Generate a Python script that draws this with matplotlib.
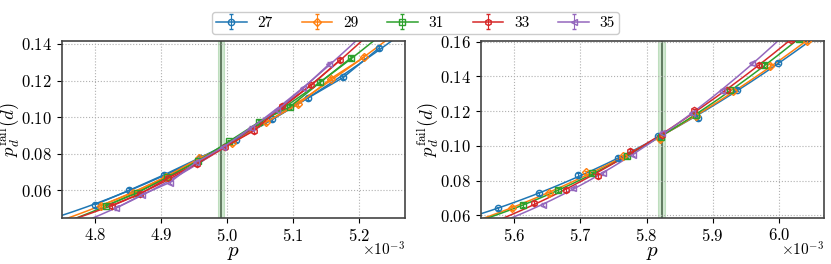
import matplotlib

matplotlib.use("Agg")
import matplotlib.pyplot as plt
import numpy as np

plt.rcParams["font.family"] = "serif"
plt.rcParams["font.serif"] = ["cmr10", "DejaVu Serif"]
plt.rcParams["mathtext.fontset"] = "cm"
plt.rcParams["axes.formatter.use_mathtext"] = True
plt.rcParams["axes.unicode_minus"] = False

# distances d and their markers
DISTANCES = [27, 29, 31, 33, 35]
MARKERS = {27: "o", 29: "D", 31: "s", 33: "h", 35: "<"}
MARKER_SIZE = {27: 4.5, 29: 3.8, 31: 4.2, 33: 4.5, 35: 4.5}
COLORS = {27: "tab:blue", 29: "tab:orange", 31: "tab:green", 33: "tab:red", 35: "tab:purple"}

# left panel: physical error rate p (units of 1e-3) and failure rate
left_p = {
    27: [4.800, 4.852, 4.905, 4.959, 5.014, 5.068, 5.122, 5.176, 5.230],
    29: [4.8085, 4.858, 4.908, 4.958, 5.0077, 5.0586, 5.108, 5.1574, 5.2073],
    31: [4.8165, 4.863, 4.909, 4.956, 5.003, 5.048, 5.095, 5.1414, 5.1877],
    33: [4.825, 4.8685, 4.9108, 4.9538, 4.997, 5.0405, 5.0839, 5.127, 5.1706],
    35: [4.8317, 4.8715, 4.913, 4.953, 4.994, 5.036, 5.0757, 5.115, 5.155],
}
left_pfail = {
    27: [0.0521, 0.0600, 0.0685, 0.0778, 0.0876, 0.0987, 0.1103, 0.1217, 0.1377],
    29: [0.0516, 0.0587, 0.0675, 0.0775, 0.0857, 0.0971, 0.1071, 0.1211, 0.1327],
    31: [0.0516, 0.0584, 0.0670, 0.0760, 0.0867, 0.0972, 0.1056, 0.1191, 0.1324],
    33: [0.0514, 0.0580, 0.0668, 0.0744, 0.0838, 0.0925, 0.1062, 0.1173, 0.1311],
    35: [0.0502, 0.0576, 0.0642, 0.0753, 0.0835, 0.0942, 0.1037, 0.1157, 0.1291],
}

# right panel
right_p = {
    27: [5.5764, 5.6374, 5.6968, 5.7564, 5.818, 5.878, 5.937, 5.998, 6.058],
    29: [5.597, 5.6527, 5.7084, 5.764, 5.820, 5.875, 5.931, 5.987, 6.042],
    31: [5.6137, 5.666, 5.718, 5.770, 5.822, 5.874, 5.926, 5.978, 6.030],
    33: [5.630, 5.678, 5.727, 5.775, 5.824, 5.872, 5.921, 5.970, 6.018],
    35: [5.644, 5.689, 5.734, 5.779, 5.824, 5.869, 5.914, 5.959, 6.004],
}
right_pfail = {
    27: [0.0639, 0.0726, 0.0832, 0.0929, 0.1055, 0.1158, 0.1324, 0.1479, 0.1634],
    29: [0.0642, 0.0726, 0.0847, 0.0939, 0.1040, 0.1170, 0.1316, 0.1460, 0.1605],
    31: [0.0658, 0.0745, 0.0841, 0.0940, 0.1050, 0.1180, 0.1320, 0.1467, 0.1614],
    33: [0.0671, 0.0745, 0.0826, 0.0973, 0.1065, 0.1205, 0.1320, 0.1466, 0.1612],
    35: [0.0662, 0.0755, 0.0842, 0.0949, 0.1074, 0.1187, 0.1316, 0.1475, 0.1625],
}
PFAIL_ERR = 0.0010

# threshold estimates (p_c and its uncertainty band), units of 1e-3
left_threshold = (4.9915, 4.987, 4.996)
right_threshold = (5.823, 5.818, 5.828)

fig = plt.figure(figsize=(8.31, 2.64), dpi=100)
ax_l = fig.add_axes([0.0746, 0.1754, 0.4131, 0.6705])
ax_r = fig.add_axes([0.5788, 0.1754, 0.4128, 0.6705])


def draw_panel(ax, ps, vals, thr, xlim, ylim):
    xs = np.linspace(xlim[0] - 0.05, xlim[1] + 0.05, 200)
    handles = []
    for d in DISTANCES:
        p = np.array(ps[d])
        v = np.array(vals[d])
        coef = np.polyfit(p, v, 2)
        ax.plot(xs * 1e-3, np.polyval(coef, xs), color=COLORS[d], lw=1.1, zorder=2)
        h = ax.errorbar(p * 1e-3, v, yerr=PFAIL_ERR, fmt=MARKERS[d], color=COLORS[d],
                        mfc="none", ms=MARKER_SIZE[d], mew=1.0, capsize=1.5,
                        elinewidth=0.8, ls="-", lw=1.1, label=str(d), zorder=3)
        h.lines[0].set_linestyle("none")
        handles.append(h)
    ax.axvspan(thr[1] * 1e-3, thr[2] * 1e-3, color="green", alpha=0.18, lw=0.8, zorder=1)
    ax.axvline(thr[0] * 1e-3, color="#4a654a", lw=1.3, alpha=0.9, zorder=1)
    ax.set_xlim(xlim[0] * 1e-3, xlim[1] * 1e-3)
    ax.set_ylim(*ylim)
    ax.ticklabel_format(axis="x", style="sci", scilimits=(-3, -3), useMathText=True)
    ax.xaxis.get_offset_text().set_visible(False)
    ax.text(1.0, -0.18, r"$\times10^{-3}$", transform=ax.transAxes, ha="right",
            va="center", fontsize=11)
    ax.grid(True, linestyle=":", color="#b0b0b0", lw=0.8)
    ax.tick_params(labelsize=12)
    for s in ax.spines.values():
        s.set_color("#444444")
        s.set_linewidth(1.2)
    ax.set_xlabel(r"$p$", fontsize=15, labelpad=0)
    ax.set_ylabel(r"$p_d^{\rm fail}(d)$", fontsize=13.5, labelpad=-1)
    return handles


handles = draw_panel(ax_l, left_p, left_pfail, left_threshold, (4.75, 5.27), (0.045, 0.1418))
ax_l.set_yticks([0.06, 0.08, 0.10, 0.12, 0.14])
draw_panel(ax_r, right_p, right_pfail, right_threshold, (5.55, 6.068), (0.0586, 0.1606))
ax_r.set_yticks([0.06, 0.08, 0.10, 0.12, 0.14, 0.16])

# legend markers show the line through them, as in the reference
for h in handles:
    h.lines[0].set_linestyle("-")
fig.legend(handles=handles, loc="upper center", bbox_to_anchor=(0.5, 0.985), ncol=5,
           fontsize=11, columnspacing=1.9, handlelength=2.0, handletextpad=0.7,
           borderpad=0.3, framealpha=1, edgecolor="#cccccc")

fig.savefig("out.png", dpi=100)
